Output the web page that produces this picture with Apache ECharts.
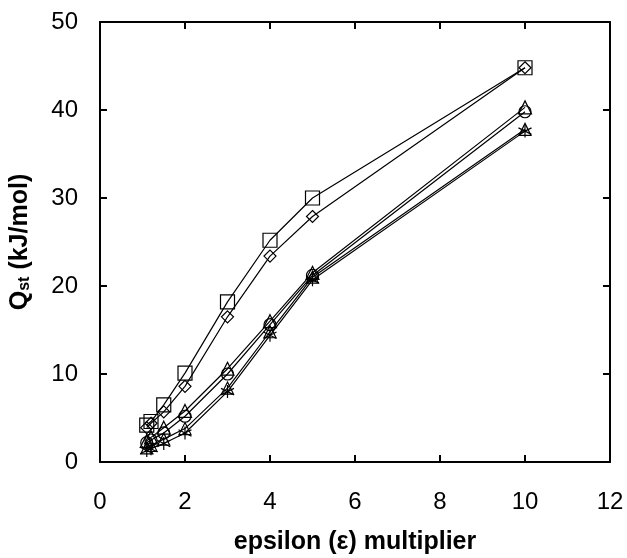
<!DOCTYPE html>
<html><head><meta charset="utf-8">
<script src="https://cdn.jsdelivr.net/npm/echarts@6/dist/echarts.min.js"></script>
<style>html,body{margin:0;padding:0;background:#fff}#c{width:627px;height:558px}</style>
</head><body><div id="c"></div>
<script>
const eps = [1.1, 1.2, 1.5, 2, 3, 4, 5, 10];
const sSquare   = [4.2, 4.6, 6.5, 10.1, 18.2, 25.2, 30.0, 44.8];
const sDiamond  = [3.9, 4.4, 5.7, 8.6, 16.5, 23.4, 27.9, 44.8];
const sTriangle = [2.4, 2.8, 3.9, 5.8, 10.6, 16.0, 21.5, 40.3];
const sCircle   = [2.2, 2.5, 3.3, 5.2, 10.0, 15.6, 21.2, 39.8];
const sTriLow   = [1.6, 1.9, 2.6, 3.8, 8.4, 14.8, 21.0, 37.8];
const sStar     = [1.3, 1.5, 2.1, 3.3, 8.0, 14.4, 20.7, 37.6];
const xTicks = [0, 2, 4, 6, 8, 10, 12];
const yTicks = [0, 10, 20, 30, 40, 50];

const asterisk = 'path://M0,-1L0,1M-0.87,-0.5L0.87,0.5M-0.87,0.5L0.87,-0.5';
function ser(data, symbol, size) {
  return {
    type: 'line', data: eps.map((x, i) => [x, data[i]]),
    symbol: symbol, symbolSize: size, showAllSymbol: true,
    lineStyle: {color: '#000', width: 1.2},
    itemStyle: {color: 'rgba(0,0,0,0)', borderColor: '#000', borderWidth: 1.2},
    emphasis: {disabled: true}, animation: false, z: 3
  };
}
const axisCommon = {
  axisLine: {show: true, onZero: false, lineStyle: {color: '#000', width: 2}},
  axisTick: {show: true, inside: true, length: 7, lineStyle: {color: '#000', width: 2}},
  splitLine: {show: false}
};
const chart = echarts.init(document.getElementById('c'), null, {renderer: 'canvas'});
chart.setOption({
  backgroundColor: '#fff',
  animation: false,
  grid: {left: 100, right: 17, top: 22, bottom: 96, containLabel: false, outerBoundsMode: 'none'},
  xAxis: [
    Object.assign({type: 'value', position: 'bottom', min: 0, max: 12, interval: 2,
      axisLabel: {color: '#000', fontSize: 24, fontFamily: 'Liberation Sans', margin: 28,
        formatter: v => xTicks.includes(v) ? String(v) : ''},
      name: 'epsilon (\u03b5) multiplier', nameLocation: 'middle', nameGap: 68,
      nameTextStyle: {color: '#000', fontSize: 25, fontWeight: 'bold', fontFamily: 'Liberation Sans'}
    }, axisCommon),
    Object.assign({type: 'value', position: 'top', min: 0, max: 12, interval: 2,
      axisLabel: {show: false}}, axisCommon)
  ],
  yAxis: [
    Object.assign({type: 'value', position: 'left', min: 0, max: 50, interval: 10,
      axisLabel: {color: '#000', fontSize: 24, fontFamily: 'Liberation Sans', margin: 22,
        formatter: v => yTicks.includes(v) ? String(v) : ''},
      name: '{a|Q}{b|st}{a| (kJ/mol)}', nameLocation: 'middle', nameGap: 67, nameRotate: 90,
      nameTextStyle: {color: '#000', rich: {
        a: {fontSize: 25, fontWeight: 'bold', fontFamily: 'Liberation Sans', color: '#000', lineHeight: 30, verticalAlign: 'bottom'},
        b: {fontSize: 16, fontWeight: 'bold', fontFamily: 'Liberation Sans', color: '#000', lineHeight: 30, verticalAlign: 'bottom', padding: [12, 0, 0, 0]}
      }}
    }, axisCommon),
    Object.assign({type: 'value', position: 'right', min: 0, max: 50, interval: 10,
      axisLabel: {show: false}}, axisCommon)
  ],
  series: [
    ser(sSquare, 'rect', 14),
    ser(sDiamond, 'diamond', 12),
    ser(sTriangle, 'triangle', 13),
    ser(sCircle, 'circle', 12),
    ser(sTriLow, 'triangle', 12),
    ser(sStar, asterisk, 13)
  ]
});
</script></body></html>
